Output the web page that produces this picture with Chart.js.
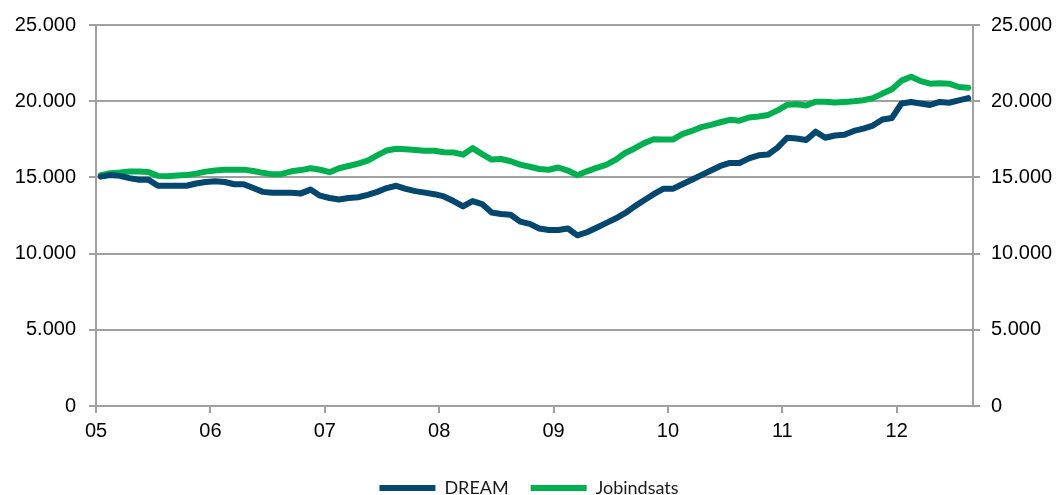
<!DOCTYPE html>
<html><head><meta charset="utf-8">
<script src="https://cdn.jsdelivr.net/npm/chart.js@4.4.1/dist/chart.umd.min.js"></script>
<style>html,body{margin:0;padding:0;background:#fff}#wrap{width:1058px;height:495px;position:relative}</style>
</head><body><div id="wrap"><canvas id="c"></canvas></div>
<script>
// Year tick labels (one per January), monthly series Jan 2005 - Aug 2012
const yearLabels = ['05','06','07','08','09','10','11','12'];
const yTickLabels = ['0','5.000','10.000','15.000','20.000','25.000'];
const seriesNames = ['DREAM','Jobindsats'];
const monthsOnAxis = 92;

const dream = [
15050,15150,15100,14950,14850,14850,14450,14450,14450,14450,14600,14700,
14750,14700,14550,14550,14300,14050,14000,14000,14000,13950,14200,13800,
13650,13550,13650,13700,13850,14050,14300,14450,14250,14100,14000,13900,
13750,13450,13100,13450,13250,12700,12600,12550,12100,11950,11650,11550,
11550,11650,11200,11400,11700,12000,12300,12650,13100,13500,13900,14250,
14250,14550,14850,15150,15450,15750,15950,15950,16250,16450,16500,16950,
17600,17550,17450,18000,17600,17750,17800,18050,18200,18400,18800,18900,
19850,19950,19850,19750,19950,19900,20050,20200
];
const jobindsats = [
15150,15280,15320,15380,15380,15360,15100,15080,15120,15150,15250,15380,
15450,15500,15510,15510,15420,15300,15200,15230,15400,15480,15600,15500,
15340,15600,15750,15900,16100,16450,16770,16880,16850,16800,16750,16750,
16650,16640,16490,16920,16530,16170,16210,16060,15840,15700,15550,15500,
15650,15450,15140,15400,15620,15820,16150,16600,16900,17250,17500,17480,
17480,17840,18050,18300,18450,18620,18780,18720,18930,19000,19100,19400,
19760,19800,19720,19970,19970,19910,19950,19990,20060,20200,20500,20780,
21350,21600,21320,21150,21170,21150,20930,20890
];

const colors = ['#03466e','#00b050'];
const gridGray = '#a0a0a0';
const toPoints = arr => arr.map((v, i) => ({x: i + 0.5, y: v}));
Chart.defaults.font.family = "'Liberation Sans', Arial, sans-serif";
const tickFont = () => ({family: "'Liberation Sans', Arial, sans-serif", size: 20});

new Chart(document.getElementById('c'), {
  type: 'line',
  data: {
    datasets: [dream, jobindsats].map((s, k) => ({
      label: seriesNames[k],
      data: toPoints(s),
      borderColor: colors[k],
      backgroundColor: colors[k],
      borderWidth: 6,
      borderCapStyle: 'round',
      borderJoinStyle: 'round',
      pointRadius: 0,
      pointStyle: 'line',
      tension: 0,
      yAxisID: 'y'
    }))
  },
  options: {
    responsive: true,
    maintainAspectRatio: false,
    animation: false,
    layout: {padding: {top: 23, bottom: -12, left: 0, right: 0}},
    plugins: {
      tooltip: {enabled: false},
      legend: {
        position: 'bottom',
        labels: {
          usePointStyle: true,
          pointStyle: 'line',
          pointStyleWidth: 56,
          font: {family: 'Lato', size: 18},
          color: '#1a1a1a',
          padding: 22
        }
      }
    },
    scales: {
      x: {
        type: 'linear',
        min: 0,
        max: monthsOnAxis,
        afterFit: s => { s.height = 51; },
        border: {color: gridGray, width: 2},
        grid: {drawOnChartArea: false, drawTicks: true, tickLength: 7, color: gridGray, lineWidth: 2},
        ticks: {
          stepSize: 12, includeBounds: false, autoSkip: false, maxRotation: 0,
          padding: 6, color: '#000', font: tickFont(),
          callback: v => { const k = Math.round(v / 12); return yearLabels[k] !== undefined ? yearLabels[k] : ''; }
        }
      },
      y: {
        position: 'left',
        min: 0, max: 25000,
        afterFit: s => { s.width = 96; },
        border: {color: gridGray, width: 2},
        grid: {color: gridGray, lineWidth: 2, tickLength: 7},
        ticks: {stepSize: 5000, padding: 13, color: '#000', font: tickFont(),
          callback: v => yTickLabels[Math.round(v / 5000)]}
      },
      y2: {
        position: 'right',
        min: 0, max: 25000,
        afterFit: s => { s.width = 85; },
        border: {color: gridGray, width: 2},
        grid: {drawOnChartArea: false, color: gridGray, lineWidth: 2, tickLength: 7},
        ticks: {stepSize: 5000, padding: 11, color: '#000', font: tickFont(),
          callback: v => yTickLabels[Math.round(v / 5000)]}
      }
    }
  }
});
</script>
</body></html>
